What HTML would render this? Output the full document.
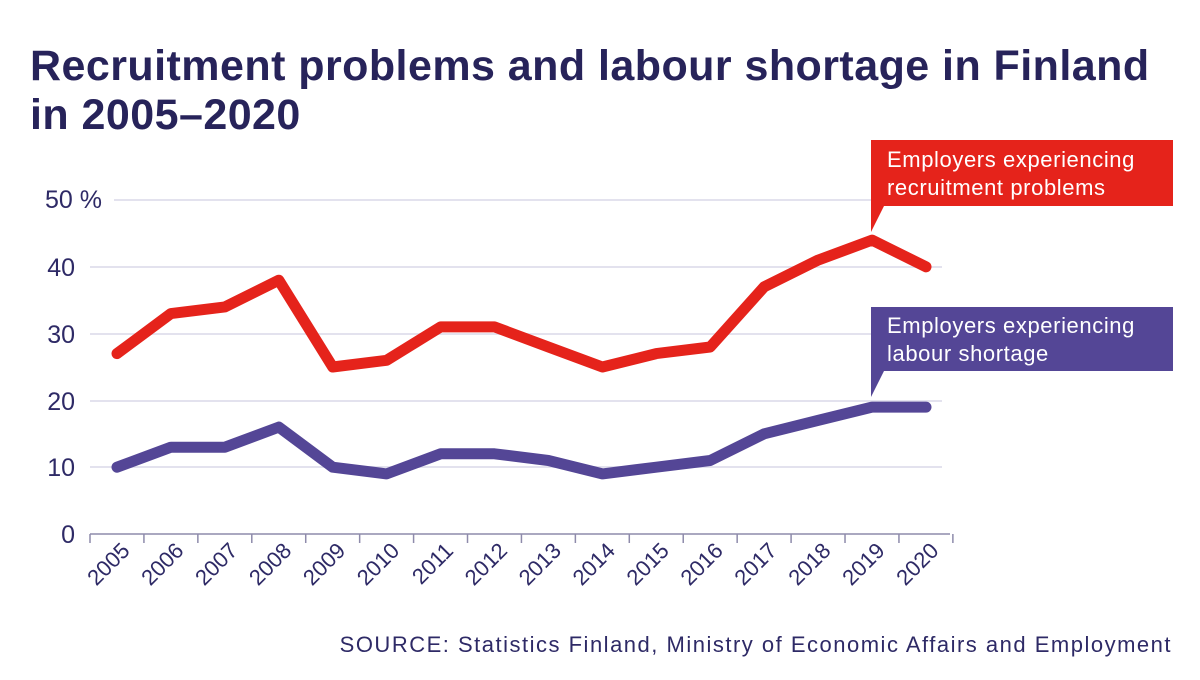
<!DOCTYPE html>
<html><head><style>
body{margin:0;background:#fff;}
svg text{font-family:"Liberation Sans",sans-serif;}
</style></head><body>
<svg width="1200" height="675" xmlns="http://www.w3.org/2000/svg">
<text x="30" y="80" font-size="43" font-weight="bold" fill="#27235a" letter-spacing="0.45">Recruitment problems and labour shortage in Finland</text>
<text x="30" y="129" font-size="43" font-weight="bold" fill="#27235a" letter-spacing="0.45">in 2005–2020</text>
<g stroke="#e3e2ee" stroke-width="2">
<line x1="114" y1="200" x2="942" y2="200"/>
<line x1="90" y1="267" x2="942" y2="267"/>
<line x1="90" y1="334" x2="942" y2="334"/>
<line x1="90" y1="401" x2="942" y2="401"/>
<line x1="90" y1="467" x2="942" y2="467"/>
</g>
<line x1="90" y1="534" x2="950" y2="534" stroke="#8e8bab" stroke-width="1.5"/>
<g stroke="#8e8bab" stroke-width="1.5" id="ticks"></g>
<g font-size="25" fill="#2e2a66" text-anchor="end">
<text x="102" y="208">50 %</text>
<text x="75" y="276">40</text>
<text x="75" y="343">30</text>
<text x="75" y="410">20</text>
<text x="75" y="476">10</text>
<text x="75" y="543">0</text>
</g>
<g id="xl" font-size="22" fill="#2e2a66"></g>
<polyline id="red" fill="none" stroke="#e5231b" stroke-width="11" stroke-linejoin="round" stroke-linecap="round"/>
<polyline id="pur" fill="none" stroke="#544696" stroke-width="11" stroke-linejoin="round" stroke-linecap="round"/>
<path d="M871 140 H1173 V206 H884 L871 232 Z" fill="#e5231b"/>
<text x="887" y="167" font-size="22" fill="#fff" letter-spacing="0.6">Employers experiencing</text>
<text x="887" y="195" font-size="22" fill="#fff" letter-spacing="0.6">recruitment problems</text>
<path d="M871 307 H1173 V371 H884 L871 397 Z" fill="#544696"/>
<text x="887" y="333" font-size="22" fill="#fff" letter-spacing="0.6">Employers experiencing</text>
<text x="887" y="361" font-size="22" fill="#fff" letter-spacing="0.6">labour shortage</text>
<text x="1172" y="652" font-size="22" fill="#2e2a66" text-anchor="end" letter-spacing="1.5">SOURCE: Statistics Finland, Ministry of Economic Affairs and Employment</text>
</svg>
<script>
var r=[27,33,34,38,25,26,31,31,28,25,27,28,37,41,44,40],p=[10,13,13,16,10,9,12,12,11,9,10,11,15,17,19,19];
function pts(a){return a.map(function(v,i){return (117+i*53.93).toFixed(1)+","+(534-v*6.68).toFixed(1)}).join(" ")}
document.getElementById("red").setAttribute("points",pts(r));
document.getElementById("pur").setAttribute("points",pts(p));
var t="",l="";
for(var i=0;i<=16;i++){var x=90+i*53.93;t+='<line x1="'+x+'" y1="534" x2="'+x+'" y2="543"/>';}
for(var i=0;i<16;i++){var x=131+i*53.93;l+='<text transform="translate('+x+',552) rotate(-45)" text-anchor="end">'+(2005+i)+'</text>';}
document.getElementById("ticks").innerHTML=t;
document.getElementById("xl").innerHTML=l;
</script>
</body></html>
